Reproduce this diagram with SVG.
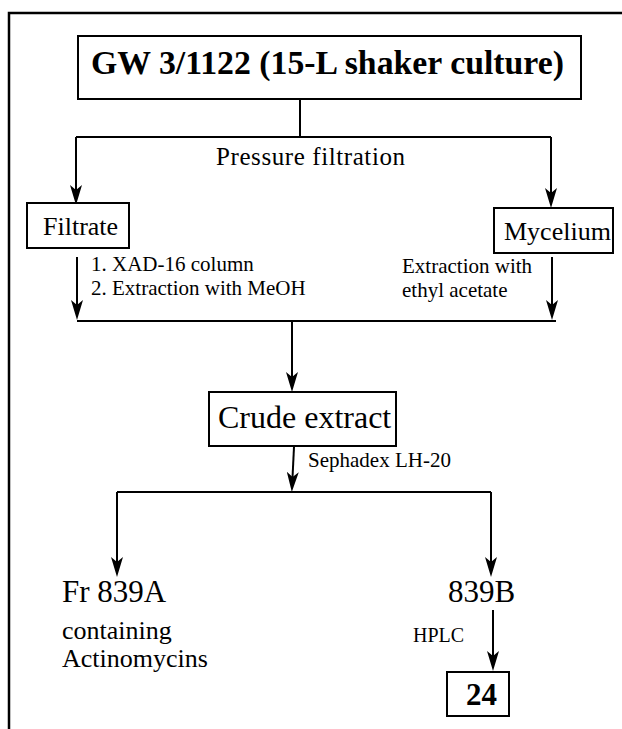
<svg xmlns="http://www.w3.org/2000/svg" width="622" height="729" viewBox="0 0 622 729" font-family="'Liberation Serif', 'Times New Roman', Tinos, 'DejaVu Serif', serif">
<style>
text{font-family:'Liberation Serif','Times New Roman',Tinos,'DejaVu Serif',serif;fill:#000}
.box{fill:#fff;stroke:#000;stroke-width:2}
.ln{fill:none;stroke:#000;stroke-width:2}
.ar{fill:none;stroke:#000;stroke-width:2;marker-end:url(#ah)}
.b{font-weight:bold}
</style>
<defs>
<marker id="ah" viewBox="0 0 20 12" refX="12" refY="6" markerWidth="20" markerHeight="12" markerUnits="userSpaceOnUse" orient="auto">
<path d="M0,0 L20,6 L0,12 L5,6 Z" fill="#000"/>
</marker>
</defs>
<rect width="622" height="729" fill="#fff"/>
<path d="M9,729 V13 H622" fill="none" stroke="#000" stroke-width="2.5"/>
<g id="connectors">
<path class="ln" d="M300,99 V137 M76,137 H551"/>
<path class="ar" d="M76,137 V197"/>
<path class="ar" d="M551,137 V200"/>
<path class="ar" d="M77,257 V312"/>
<path class="ar" d="M552,257 V312"/>
<path class="ln" d="M77,321 H556"/>
<path class="ar" d="M292,321 V384"/>
<path class="ar" d="M294,447 L292.2,484"/>
<path class="ln" d="M117,492 H491"/>
<path class="ar" d="M117,492 V569"/>
<path class="ar" d="M491,492 V569"/>
<path class="ar" d="M493,610 V663"/>
</g>
<g id="n-culture">
<rect class="box" x="78" y="36" width="503" height="63"/>
<text class="b" x="91" y="74" font-size="34" textLength="473" lengthAdjust="spacingAndGlyphs">GW 3/1122 (15-L shaker culture)</text>
</g>
<g id="l-pressure"><text x="216" y="165" font-size="25" textLength="189">Pressure filtration</text></g>
<g id="n-filtrate">
<rect class="box" x="27" y="203" width="102" height="45"/>
<text x="43" y="235" font-size="26">Filtrate</text>
</g>
<g id="n-mycelium">
<rect class="box" x="494" y="208" width="119" height="45"/>
<text x="504" y="240" font-size="26">Mycelium</text>
</g>
<g id="l-filtrate">
<text x="91" y="271" font-size="21">1. XAD-16 column</text>
<text x="91" y="295" font-size="21">2. Extraction with MeOH</text>
</g>
<g id="l-mycelium">
<text x="402" y="273" font-size="21">Extraction with</text>
<text x="402" y="297" font-size="21">ethyl acetate</text>
</g>
<g id="n-crude">
<rect class="box" x="209" y="392" width="187" height="54"/>
<text x="218" y="428" font-size="32">Crude extract</text>
</g>
<g id="l-sephadex"><text x="308" y="467" font-size="21">Sephadex LH-20</text></g>
<g id="n-839A">
<text x="62" y="602" font-size="31">Fr 839A</text>
<text x="62" y="639" font-size="26">containing</text>
<text x="62" y="667" font-size="26">Actinomycins</text>
</g>
<g id="n-839B"><text x="448" y="602" font-size="31">839B</text></g>
<g id="l-hplc"><text x="413" y="642" font-size="20">HPLC</text></g>
<g id="n-24">
<rect class="box" x="447" y="672" width="62" height="44"/>
<text class="b" x="466" y="705" font-size="31">24</text>
</g>
</svg>
